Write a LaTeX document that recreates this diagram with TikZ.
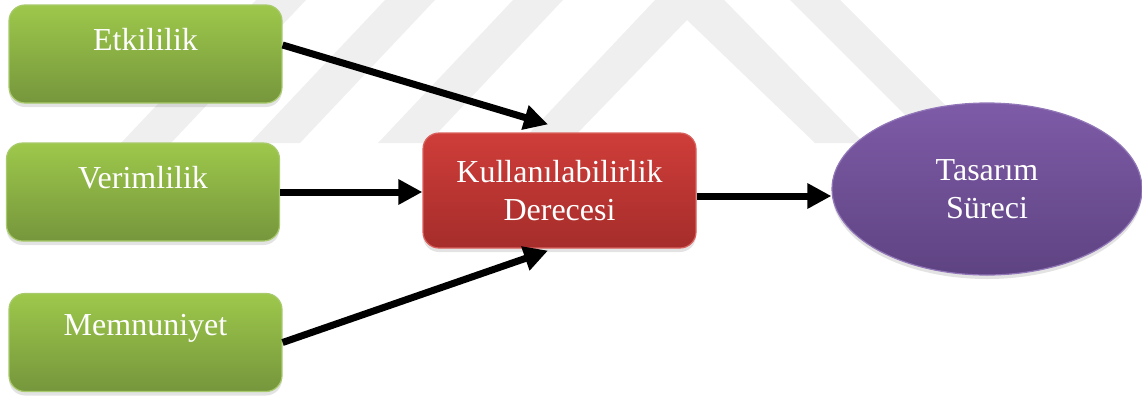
\documentclass[tikz,border=0pt]{standalone}
\usepackage{fontspec}
\setmainfont{Liberation Serif}
\usetikzlibrary{arrows.meta,shadows,shapes.geometric}

\definecolor{wmgray}{HTML}{EFEFEF}
\definecolor{greenTop}{HTML}{9DC84B}
\definecolor{greenMid}{HTML}{93BD46}
\definecolor{greenBot}{HTML}{76963C}
\definecolor{greenEdge}{HTML}{A8CA6C}
\definecolor{redTop}{HTML}{CF3D39}
\definecolor{redMid}{HTML}{C33834}
\definecolor{redBot}{HTML}{A52D2B}
\definecolor{redEdge}{HTML}{D9625E}
\definecolor{purpleTop}{HTML}{7E5BA7}
\definecolor{purpleMid}{HTML}{7252A0}
\definecolor{purpleBot}{HTML}{5E4382}
\definecolor{purpleEdge}{HTML}{9277B8}

\begin{document}
\begin{tikzpicture}[x=1pt,y=-1pt,
  soft shadow/.style={drop shadow={opacity=0.22,shadow xshift=0pt,shadow yshift=-4pt}},
  gbox/.style={rectangle,rounded corners=16pt,minimum width=273pt,minimum height=98pt,
    inner sep=0pt,draw=greenEdge,line width=1.2pt,
    top color=greenTop,middle color=greenMid,bottom color=greenBot,soft shadow},
  rbox/.style={rectangle,rounded corners=16pt,minimum width=273pt,minimum height=115pt,
    inner sep=0pt,draw=redEdge,line width=1.2pt,align=center,text=white,
    font=\fontsize{32}{38}\selectfont,
    top color=redTop,middle color=redMid,bottom color=redBot,soft shadow},
  pell/.style={ellipse,minimum width=310pt,minimum height=172pt,inner sep=0pt,
    draw=purpleEdge,line width=1.2pt,align=center,text=white,
    font=\fontsize{32}{38}\selectfont,
    top color=purpleTop,middle color=purpleMid,bottom color=purpleBot,soft shadow},
  lbl/.style={text=white,font=\fontsize{32}{38}\selectfont,inner sep=0pt},
  arr/.style={line width=7pt,-{Triangle[length=24pt,width=24pt]}}
]
\useasboundingbox (0,0) rectangle (1142,399);

% faint background mark: diagonal stripes and chevron
\begin{scope}
  \clip (0,0) rectangle (1142,399);
  \fill[wmgray] (256,0) -- (306,0) -- (171,143) -- (121,143) -- cycle;
  \fill[wmgray] (385,0) -- (435,0) -- (300,143) -- (250,143) -- cycle;
  \fill[wmgray] (513,0) -- (563,0) -- (428,143) -- (378,143) -- cycle;
  \fill[wmgray] (520,143) -- (689,-36) -- (864,143) -- (815,143) -- (687,20) -- (568,143) -- cycle;
  \fill[wmgray] (790,0) -- (840,0) -- (983,143) -- (933,143) -- cycle;
\end{scope}

% input boxes
\node[gbox] (g1) at (145.5,54) {};
\node[gbox] (g2) at (143,192) {};
\node[gbox] (g3) at (145.5,342.5) {};
\node[lbl] (t1) at ([yshift=14pt]g1.center) {Etkililik};
\node[lbl] (t2) at ([yshift=14pt]g2.center) {Verimlilik};
\node[lbl] (t3) at ([yshift=14pt]g3.center) {Memnuniyet};

% central box and result
\node[rbox] (r) at (559.5,190.5) {Kullanılabilirlik\\Derecesi};
\node[pell] (e) at (987,189) {Tasarım\\Süreci};

% connectors
\draw[arr] ([yshift=9pt]g1.east) -- ([xshift=-11.5pt,yshift=8pt]r.north);
\draw[arr] (g2.east) -- (g2.east -| r.west);
\draw[arr] (g3.east) -- ([xshift=-11.5pt,yshift=-2pt]r.south);
\draw[arr] ([yshift=-5.5pt]r.east) -- ([yshift=-7pt]e.west);
\end{tikzpicture}
\end{document}
